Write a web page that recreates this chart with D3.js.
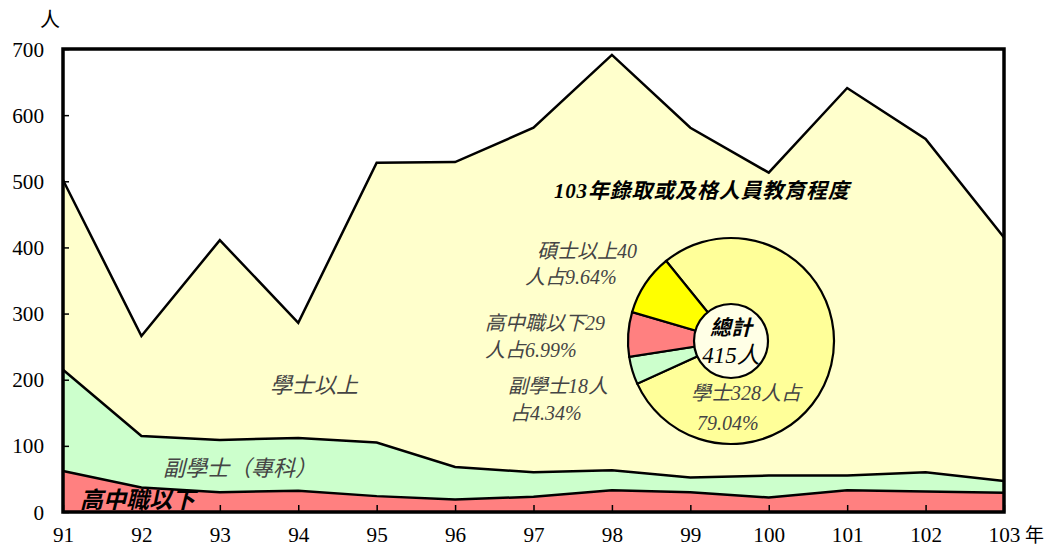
<!DOCTYPE html>
<html><head><meta charset="utf-8">
<script src="https://cdn.jsdelivr.net/npm/d3@7"></script>
<style>
body{margin:0;background:#fff;}
svg{display:block;}
text{font-family:"Liberation Serif","Noto Sans CJK TC",serif;}
</style></head>
<body><svg id="c" width="1049" height="549"></svg>
<script>
const years = ["91","92","93","94","95","96","97","98","99","100","101","102","103"];
const seniorHigh = [62,37,30,32,24,19,23,33,30,22,33,31,29];
const associate  = [153,78,79,80,81,49,37,30,22,33,22,29,18];
const bachelorUp = [287,151,302,174,423,461,521,628,529,458,586,504,368];
const yTicks = [0,100,200,300,400,500,600,700];

const pieLabels = ["學士","副學士","高中職以下","碩士以上"];
const pieValues = [328,18,29,40];
const piePct = ["79.04%","4.34%","6.99%","9.64%"];
const pieTotal = 415;

const svg = d3.select("#c");
const L=63,R=1004,T=49,B=512;
const x = d3.scalePoint(years,[L,R]);
const y = d3.scaleLinear([0,700],[B,T]);

const rows = years.map((yr,i)=>({yr, s:seniorHigh[i], a:associate[i], b:bachelorUp[i]}));
const keys = ["s","a","b"];
const fills = {s:"#FF8080", a:"#CCFFCC", b:"#FFFFCC"};
const stack = d3.stack().keys(keys)(rows);

svg.append("rect").attr("x",L).attr("y",T).attr("width",R-L).attr("height",B-T).attr("fill","#fff");

const area = d3.area().x(d=>x(d.data.yr)).y0(d=>y(d[0])).y1(d=>y(d[1]));
const line = d3.line().x(d=>x(d.data.yr)).y(d=>y(d[1]));
svg.selectAll(".ar").data(stack).join("path").attr("d",area).attr("fill",d=>fills[d.key]);
svg.selectAll(".ln").data(stack).join("path").attr("d",line).attr("fill","none")
  .attr("stroke","#000").attr("stroke-width",2.5).attr("stroke-linejoin","miter");

// area labels
svg.append("text").attr("x",270).attr("y",393).attr("font-size",22).attr("font-style","italic")
  .attr("fill","#444").attr("font-family","Noto Sans CJK TC").text("學士以上");
svg.append("text").attr("x",163).attr("y",476).attr("font-size",22).attr("font-style","italic")
  .attr("fill","#444").attr("font-family","Noto Sans CJK TC").text("副學士（專科）");
svg.append("text").attr("x",80).attr("y",508).attr("font-size",23).attr("font-style","italic").attr("font-weight","bold")
  .attr("fill","#000").attr("font-family","Noto Sans CJK TC").text("高中職以下");

// pie
const cx=731, cy=341, rO=103, rI=37;
const a0 = -39*Math.PI/180;
const pie = d3.pie().value(d=>d).sort(null).startAngle(a0).endAngle(a0+2*Math.PI);
const arc = d3.arc().innerRadius(0).outerRadius(rO);
const pieFills = ["#FFFF99","#CCFFCC","#FF8080","#FFFF00"];
const pg = svg.append("g").attr("transform",`translate(${cx},${cy})`);
pg.selectAll("path").data(pie(pieValues)).join("path").attr("d",arc)
  .attr("fill",(d,i)=>pieFills[i]).attr("stroke","#000").attr("stroke-width",2.2);
pg.append("circle").attr("r",rI).attr("fill","#FFFFE6").attr("stroke","#000").attr("stroke-width",2.2);
pg.append("text").attr("y",-6).attr("text-anchor","middle").attr("font-size",21).attr("font-style","italic")
  .attr("font-weight","bold").attr("font-family","Noto Sans CJK TC").text("總計");
pg.append("text").attr("y",22).attr("text-anchor","middle").attr("font-size",23).attr("font-style","italic")
  .text(pieTotal+"人");

// title
svg.append("text").attr("x",554).attr("y",198).attr("font-size",21).attr("font-style","italic").attr("font-weight","bold")
  .attr("letter-spacing",0.8).text("103年錄取或及格人員教育程度");

// pie labels
const labStyle = s=>s.attr("font-size",20).attr("font-style","italic").attr("fill","#444");
const plab = [
  {lines:[pieLabels[3]+pieValues[3], "人占"+piePct[3]], x:[537,525], y:[258,284]},
  {lines:[pieLabels[2]+pieValues[2], "人占"+piePct[2]], x:[485,485], y:[330,357]},
  {lines:[pieLabels[1]+pieValues[1]+"人", "占"+piePct[1]], x:[508,510], y:[393,420]},
  {lines:[pieLabels[0]+pieValues[0]+"人占", piePct[0]], x:[691,697], y:[400,430]}
];
plab.forEach(p=>p.lines.forEach((t,k)=>{
  labStyle(svg.append("text").attr("x",p.x[k]).attr("y",p.y[k])).text(t);
}));

// axes
const yAxis = svg.append("g").attr("transform",`translate(${L},0)`)
  .call(d3.axisLeft(y).tickValues(yTicks).tickSize(-6).tickPadding(19).tickSizeOuter(0));
const xAxis = svg.append("g").attr("transform",`translate(0,${B})`)
  .call(d3.axisBottom(x).tickSize(-7).tickPadding(14).tickSizeOuter(0));
[yAxis,xAxis].forEach(g=>{
  g.select(".domain").remove();
  g.selectAll("line").attr("stroke","#000").attr("stroke-width",1.5);
  g.selectAll("text").attr("font-size",22).attr("fill","#000").attr("font-family","Liberation Serif")
    .attr("textLength",function(){return this.textContent.length*10.6;})
    .attr("lengthAdjust","spacingAndGlyphs");
});
svg.append("text").attr("x",1025).attr("y",542).attr("font-size",19).attr("font-family","Noto Sans CJK TC").text("年");
svg.append("text").attr("x",40).attr("y",27).attr("font-size",20).attr("font-family","Noto Sans CJK TC").text("人");

// frame
svg.append("rect").attr("x",L).attr("y",T).attr("width",R-L).attr("height",B-T)
  .attr("fill","none").attr("stroke","#000").attr("stroke-width",3.5);
</script></body></html>
